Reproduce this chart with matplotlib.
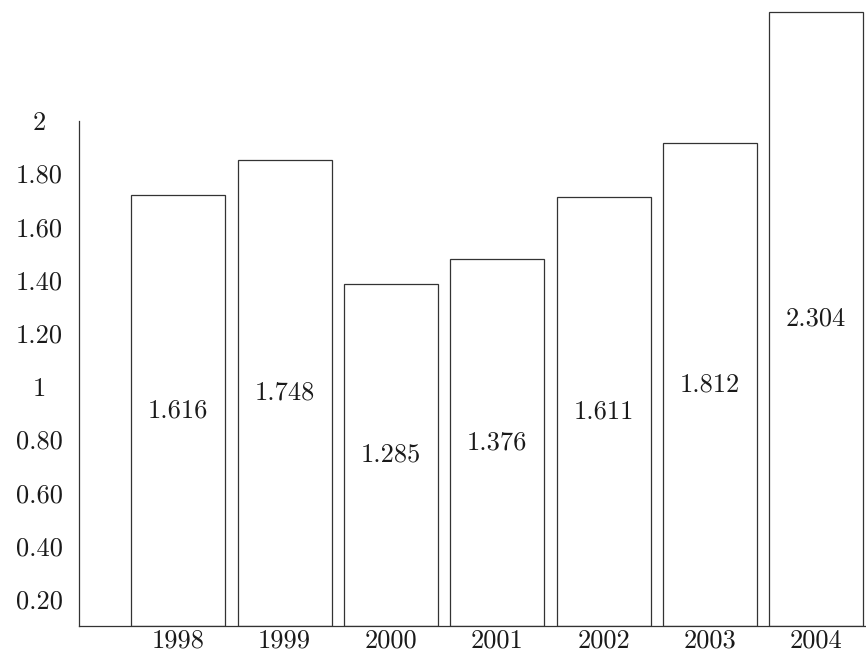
import matplotlib
matplotlib.use("Agg")
import matplotlib.pyplot as plt
import matplotlib.transforms as mtransforms

years = ["1998", "1999", "2000", "2001", "2002", "2003", "2004"]
values = [1.616, 1.748, 1.285, 1.376, 1.611, 1.812, 2.304]
value_labels = ["1.616", "1.748", "1.285", "1.376", "1.611", "1.812", "2.304"]
ytick_values = [0.2, 0.4, 0.6, 0.8, 1.0, 1.2, 1.4, 1.6, 1.8, 2.0]
ytick_labels = ["0.20", "0.40", "0.60", "0.80", "1", "1.20", "1.40", "1.60", "1.80", "2"]

plt.rcParams['font.family'] = ['cmr10', 'DejaVu Serif']
plt.rcParams['axes.formatter.use_mathtext'] = True

FS = 19
W, H = 866, 655
fig = plt.figure(figsize=(W / 100, H / 100), dpi=100)
left_px, right_px, bottom_px, top_px = 78.5, 866, 625.5, 5.5
ax = fig.add_axes([left_px / W, (H - bottom_px) / H,
                   (right_px - left_px) / W, (bottom_px - top_px) / H])

x = list(range(len(years)))
ax.bar(x, values, width=0.884, facecolor='white', edgecolor='#333333',
       linewidth=0.9, zorder=2)
for xi, v, lab in zip(x, values, value_labels):
    ax.text(xi, v / 2, lab, ha='center', va='center', fontsize=FS, color='#1a1a1a')

ax.set_xlim(-0.939, 6.469)
ax.set_ylim(0, 2.33)

ax.set_xticks(x)
ax.set_xticklabels(years, fontsize=FS, color='#1a1a1a')
ax.set_yticks(ytick_values)
ax.set_yticklabels(ytick_labels, fontsize=FS, color='#1a1a1a', ha='center')
ax.tick_params(axis='both', length=0)
ax.tick_params(axis='y', pad=28.4)
ax.tick_params(axis='x', pad=2)

offset = mtransforms.ScaledTranslation(0, -27 / 100, fig.dpi_scale_trans)
for lbl in ax.get_yticklabels():
    lbl.set_transform(lbl.get_transform() + offset)

for s in ['top', 'right']:
    ax.spines[s].set_visible(False)
ax.spines['left'].set_bounds(0, 1.897)
for s in ['left', 'bottom']:
    ax.spines[s].set_linewidth(0.9)
    ax.spines[s].set_color('#333333')

fig.savefig("out.png", dpi=100)
